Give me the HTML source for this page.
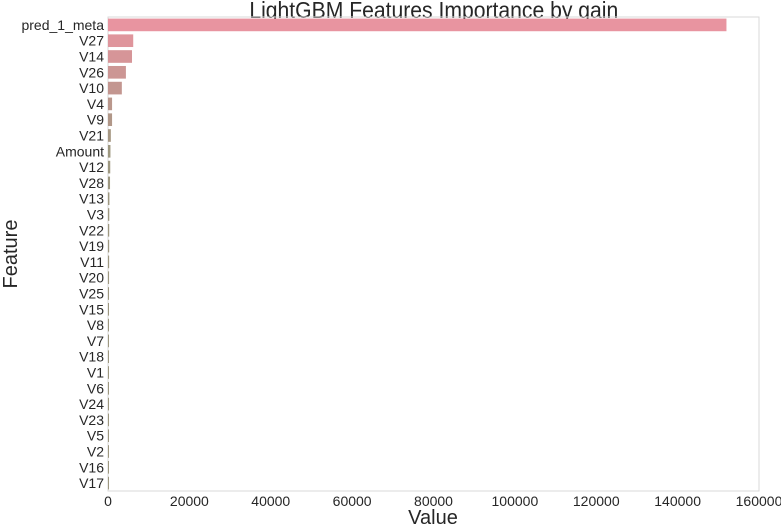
<!DOCTYPE html>
<html><head><meta charset="utf-8"><style>
html,body{margin:0;padding:0;background:#fff;}
svg{display:block;font-family:"Liberation Sans",sans-serif;}
</style></head><body>
<svg id="chart" width="781" height="526" viewBox="0 0 781 526" xmlns="http://www.w3.org/2000/svg">
<text x="482" y="18" font-size="23.5" text-anchor="middle" fill="#262626" transform="scale(0.9,1)">LightGBM Features Importance by gain</text>
<rect x="108" y="17" width="651" height="474" fill="none" stroke="#d9d9d9" stroke-width="1"/>
<g id="bars"></g>
<g id="ylabels"></g>
<g id="xticks"></g>
<text x="433" y="524" font-size="20" text-anchor="middle" fill="#262626">Value</text>
<text x="-254" y="17" font-size="20" text-anchor="middle" fill="#262626" transform="rotate(-90)">Feature</text>
</svg>
<script>
const features = ["pred_1_meta","V27","V14","V26","V10","V4","V9","V21","Amount","V12","V28","V13","V3","V22","V19","V11","V20","V25","V15","V8","V7","V18","V1","V6","V24","V23","V5","V2","V16","V17"];
const gains = [152000,6200,5900,4400,3400,1000,1000,700,600,550,500,350,320,300,290,280,260,250,240,220,210,200,180,170,150,140,130,120,110,100];
const xTicks = [0,20000,40000,60000,80000,100000,120000,140000,160000];
const X0=108,X1=759,Y0=17,Y1=491,XMAX=160000;
const xs=v=>X0+(v/XMAX)*(X1-X0);
const band=(Y1-Y0)/features.length;
const ys=i=>Y0+i*band;
const NS="http://www.w3.org/2000/svg";
function col(i){
  const t=Math.min(1,i/8);
  const a=[232,148,160],b=[158,152,128];
  return `rgb(${a.map((c,k)=>Math.round(c+(b[k]-c)*t)).join(",")})`;
}
const bars=document.getElementById('bars'),yl=document.getElementById('ylabels'),xt=document.getElementById('xticks');
features.forEach((f,i)=>{
  const r=document.createElementNS(NS,'rect');
  
  
  r.setAttribute('x',X0);r.setAttribute('y',ys(i)+band*0.1);
  r.setAttribute('width',Math.max(1,xs(gains[i])-X0));r.setAttribute('height',band*0.8);
  r.setAttribute('fill',col(i));
  bars.appendChild(r);
  const t=document.createElementNS(NS,'text');
  
  
  t.setAttribute('x',104);t.setAttribute('y',ys(i)+band/2+5);
  t.setAttribute('font-size','14');t.setAttribute('text-anchor','end');t.setAttribute('fill','#262626');
  t.textContent=f;yl.appendChild(t);
});
xTicks.forEach(v=>{
  const t=document.createElementNS(NS,'text');
  
  
  t.setAttribute('x',xs(v));t.setAttribute('y',506);
  t.setAttribute('font-size','14');t.setAttribute('text-anchor','middle');t.setAttribute('fill','#262626');
  t.textContent=v;xt.appendChild(t);
});
</script>
</body></html>
